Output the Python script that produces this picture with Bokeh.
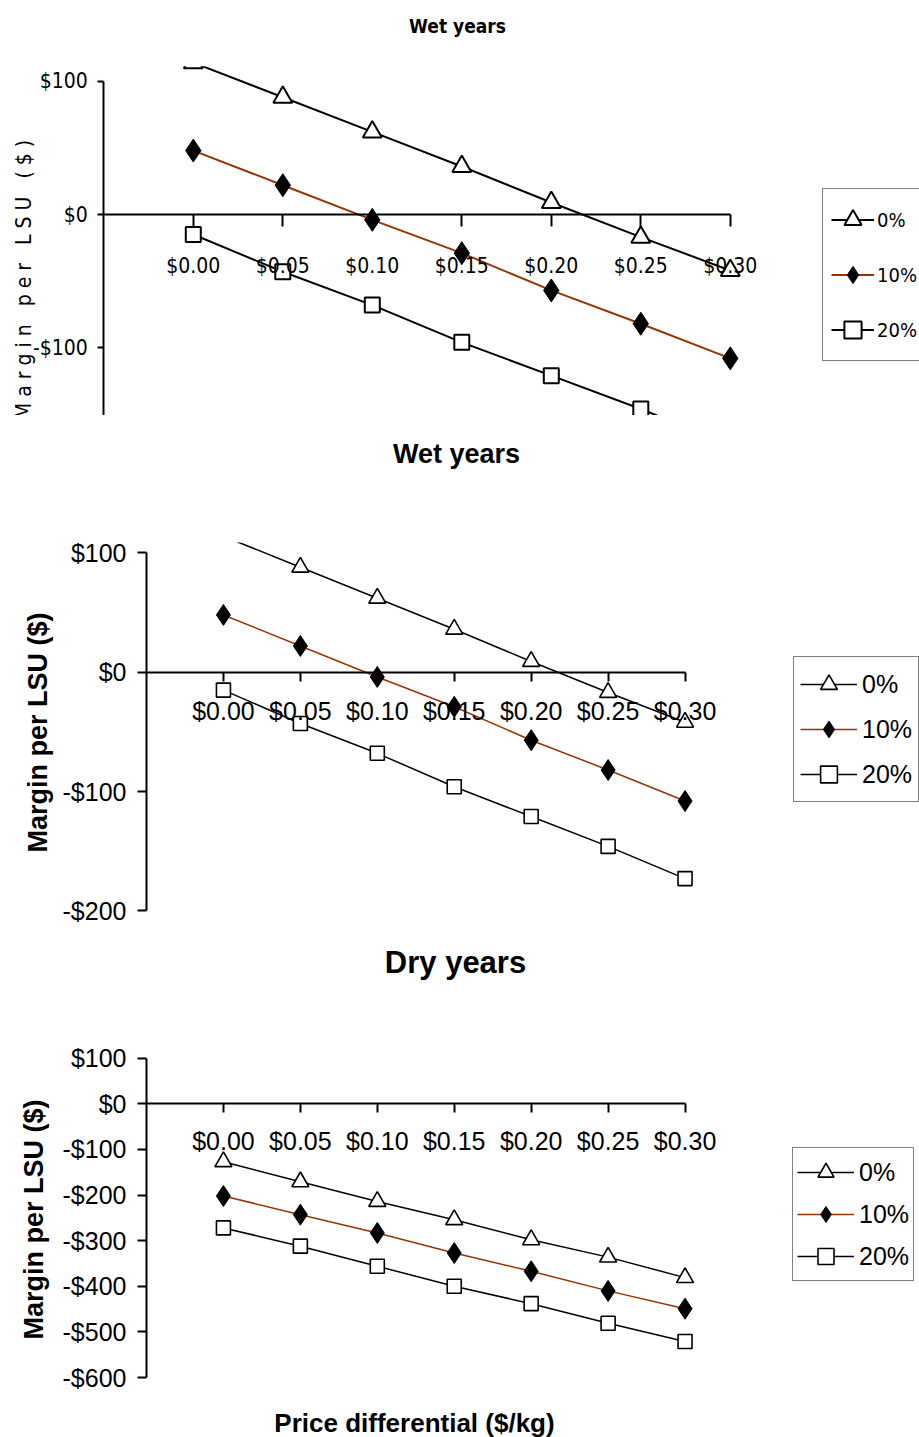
import math
from bokeh.plotting import figure
from bokeh.models import (Range1d, LinearAxis, FixedTicker, CustomJSTickFormatter,
                          Legend, LegendItem, Label, BoxAnnotation)
from bokeh.layouts import column
from bokeh.embed import file_html
from bokeh.resources import INLINE

# ---------------- data ----------------
price_diff = [0.00, 0.05, 0.10, 0.15, 0.20, 0.25, 0.30]
price_labels = ["$0.00", "$0.05", "$0.10", "$0.15", "$0.20", "$0.25", "$0.30"]
series_names = ["0%", "10%", "20%"]

wet_0 = [114, 88, 62, 36, 9, -17, -42]
wet_10 = [48, 22, -4, -29, -57, -82, -108]
wet_20 = [-15, -43, -68, -96, -121, -146, -173]

dry_0 = [-127, -171, -214, -254, -298, -336, -381]
dry_10 = [-202, -243, -283, -327, -367, -410, -449]
dry_20 = [-272, -312, -356, -400, -438, -481, -521]

wet_y_ticks = [-200, -100, 0, 100]
wet_y_labels = ["-$200", "-$100", "$0", "$100"]
top_y_ticks = [-100, 0, 100]
top_y_labels = ["-$100", "$0", "$100"]
dry_y_ticks = [-600, -500, -400, -300, -200, -100, 0, 100]
dry_y_labels = ["-$600", "-$500", "-$400", "-$300", "-$200", "-$100", "$0", "$100"]

BROWN = "#993300"
ARIAL = "Liberation Sans, Arial, sans-serif"
NARROW = "Liberation Sans Narrow, Arial Narrow, DejaVu Sans Condensed, Liberation Sans, sans-serif"
W = 919
NB = "\u00a0"

FMT_CODE = """
for (let i = 0; i < tick_vals.length; i++) {
  if (Math.abs(tick_vals[i] - tick) < 1e-9) { return tick_text[i]; }
}
return '';
"""


def fmt(vals, labels):
    return CustomJSTickFormatter(args=dict(tick_vals=vals, tick_text=labels), code=FMT_CODE)


def style_axis(ax, font, size, tick_out, standoff, lw):
    ax.axis_line_color = "black"
    ax.axis_line_width = lw
    ax.major_tick_line_color = "black"
    ax.major_tick_line_width = lw
    ax.major_tick_in = 0
    ax.major_tick_out = tick_out
    ax.minor_tick_line_color = None
    ax.major_label_text_font = font
    ax.major_label_text_font_size = size
    ax.major_label_text_color = "black"
    ax.major_label_standoff = standoff


def panel(height, axis_px, x_px_per_unit, zero_px, y_px_per_unit):
    # axis_px: screen x of the y axis (x = -0.05); zero_px: screen y of value 0
    x0 = -0.05 - axis_px / x_px_per_unit
    x1 = x0 + W / x_px_per_unit
    y1 = zero_px / y_px_per_unit
    y0 = y1 - height / y_px_per_unit
    p = figure(width=W, height=height, output_backend="svg", toolbar_location=None,
               x_range=Range1d(x0, x1), y_range=Range1d(y0, y1),
               x_axis_type=None, y_axis_type=None,
               min_border_left=0, min_border_right=0, min_border_top=0, min_border_bottom=0,
               outline_line_color=None)
    return p


def add_axes(p, yticks, ylabels, ybounds, font, size, ytick_out, ystandoff, xtick_out, xstandoff, lw):
    yax = LinearAxis(ticker=FixedTicker(ticks=yticks), formatter=fmt(yticks, ylabels),
                     bounds=ybounds, fixed_location=-0.05)
    style_axis(yax, font, size, ytick_out, ystandoff, lw)
    p.add_layout(yax, "left")
    xax = LinearAxis(ticker=FixedTicker(ticks=price_diff), formatter=fmt(price_diff, price_labels),
                     bounds=(-0.05, 0.30), fixed_location=0)
    style_axis(xax, font, size, xtick_out, xstandoff, lw)
    p.add_layout(xax, "below")


def add_series(p, y0s, y10s, y20s, lw, tri, dia, sq, mlw):
    l0 = p.line(price_diff, y0s, line_color="black", line_width=lw)
    s0 = p.scatter(price_diff, y0s, marker="triangle", size=tri, fill_color="white",
                   line_color="black", line_width=mlw)
    l1 = p.line(price_diff, y10s, line_color=BROWN, line_width=lw)
    s1 = p.scatter(price_diff, y10s, marker="diamond", size=dia, fill_color="black",
                   line_color="black", line_width=1)
    l2 = p.line(price_diff, y20s, line_color="black", line_width=lw)
    s2 = p.scatter(price_diff, y20s, marker="square", size=sq, fill_color="white",
                   line_color="black", line_width=mlw)
    return [[l0, s0], [l1, s1], [l2, s2]]


def plot_area_top(p, top_value):
    # emulates the clipping of the chart's plot area above its top edge
    p.add_layout(BoxAnnotation(left=-0.05, bottom=top_value, fill_color="white", fill_alpha=1.0,
                               line_color=None))


def add_legend(p, H, rends, left, top, font, size, gw, gh, spacing, padding, standoff):
    n = len(series_names)
    box_h = 2 * padding + n * gh + (n - 1) * spacing
    items = [LegendItem(label=nm, renderers=r) for nm, r in zip(series_names, rends)]
    lg = Legend(items=items, location=(left, H - top - box_h), orientation="vertical",
                border_line_color="black", border_line_width=1.6,
                background_fill_color="white", background_fill_alpha=1.0,
                label_text_font=font, label_text_font_size=size, label_text_color="black",
                label_text_baseline="middle",
                glyph_width=gw, glyph_height=gh, label_height=gh, spacing=spacing,
                padding=padding, label_standoff=standoff, margin=0)
    p.add_layout(lg)


def add_text(p, H, x, y, text, font, size, bold=False, angle=0.0):
    p.add_layout(Label(x=x, y=H - y, x_units="screen", y_units="screen", text=text,
                       angle=angle, text_align="center", text_baseline="middle",
                       text_font=font, text_font_size=size,
                       text_font_style="bold" if bold else "normal", text_color="black"))


# ---------------- panel 1 (top, condensed rendering of wet years) ----------------
H1 = 415
p1 = panel(H1, axis_px=103.3, x_px_per_unit=1790, zero_px=214, y_px_per_unit=1.332)
add_axes(p1, top_y_ticks, top_y_labels, (-160, 100), NARROW, "21px", 6, 10, 12, 27, 2)
r1 = add_series(p1, wet_0, wet_10, wet_20, 2, 19, 23, 15, 2)
plot_area_top(p1, 111.3)
add_legend(p1, H1, r1, 822, 190, NARROW, "20px", 43, 45, 10, 8, 3)
add_text(p1, H1, 457, 25, "Wet years", NARROW, "19px", bold=True)
spaced_label = (" " + NB + " ").join(" ".join(word) for word in ["Margin", "per", "LSU", "($)"])
add_text(p1, H1, 23.5, 279, spaced_label, NARROW, "21px", angle=math.pi / 2)

# ---------------- panel 2 (wet years) ----------------
H2 = 520
p2 = panel(H2, axis_px=146, x_px_per_unit=1538.7, zero_px=256.7, y_px_per_unit=1.193)
add_axes(p2, wet_y_ticks, wet_y_labels, (-200, 100), ARIAL, "25px", 9, 11, 9, 16, 2)
r2 = add_series(p2, wet_0, wet_10, wet_20, 1.5, 17, 21, 14, 1.6)
plot_area_top(p2, 108.8)
add_legend(p2, H2, r2, 793, 243, ARIAL, "25px", 57, 42, 3, 6, 5)
add_text(p2, H2, 456, 38, "Wet years", ARIAL, "27px", bold=True)
add_text(p2, H2, 37, 317, "Margin per LSU ($)", ARIAL, "27px", bold=True, angle=math.pi / 2)

# ---------------- panel 3 (dry years) ----------------
H3 = 502
p3 = panel(H3, axis_px=146, x_px_per_unit=1538.7, zero_px=168.3, y_px_per_unit=0.4563)
add_axes(p3, dry_y_ticks, dry_y_labels, (-600, 100), ARIAL, "25px", 9, 11, 9, 14, 2)
r3 = add_series(p3, dry_0, dry_10, dry_20, 1.5, 17, 21, 14, 1.6)
add_legend(p3, H3, r3, 792, 214, ARIAL, "25px", 57, 40, 2, 4, 5)
add_text(p3, H3, 455, 27, "Dry years", ARIAL, "31px", bold=True)
add_text(p3, H3, 33, 284, "Margin per LSU ($)", ARIAL, "27px", bold=True, angle=math.pi / 2)
add_text(p3, H3, 414, 487, "Price differential ($/kg)", ARIAL, "26px", bold=True)

layout = column(p1, p2, p3, spacing=0)
open("out.html", "w").write(file_html(layout, INLINE))
